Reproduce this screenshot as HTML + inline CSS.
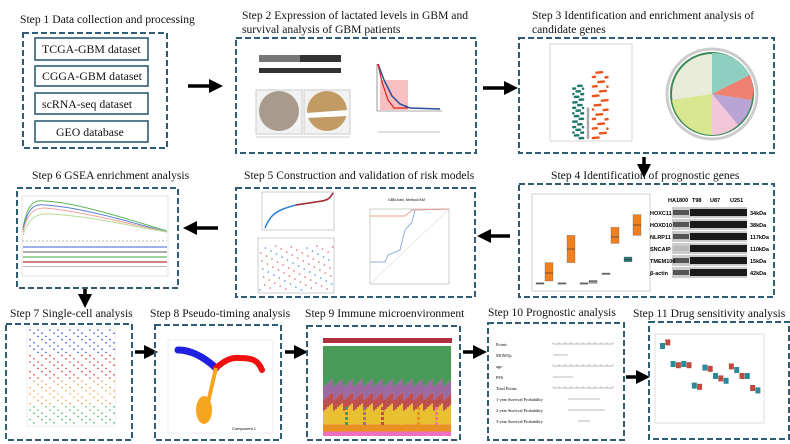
<!DOCTYPE html>
<html><head><meta charset="utf-8"><style>
html,body{margin:0;padding:0;background:#fff;}
svg{display:block;font-family:"Liberation Serif",serif;}
.t{font-size:11.6px;fill:#111;}
.ti{font-size:11.8px;fill:#111;}
.bx{fill:none;stroke:#2e5d75;stroke-width:2;stroke-dasharray:6,3;}
.ib{fill:#fff;stroke:#2e5d75;stroke-width:1.6;}
</style></head><body>
<svg id="fig" width="790" height="444" viewBox="0 0 790 444">
<defs>
<marker id="ah" markerWidth="4" markerHeight="4" refX="2" refY="2" orient="auto"><path d="M0,0 L4,2 L0,4 z" fill="#000"/></marker>
</defs>
<!-- Step 1 -->
<text class="t" x="20" y="23">Step 1 Data collection and processing</text>
<rect class="bx" x="23" y="33" width="144" height="115"/>
<rect class="ib" x="35" y="38" width="113" height="22"/>
<text class="ti" x="42" y="53">TCGA-GBM dataset</text>
<rect class="ib" x="35" y="66" width="113" height="20"/>
<text class="ti" x="42" y="80">CGGA-GBM dataset</text>
<rect class="ib" x="35" y="93" width="113" height="21"/>
<text class="ti" x="42" y="108">scRNA-seq dataset</text>
<rect class="ib" x="35" y="121" width="113" height="21"/>
<text class="ti" x="56" y="136">GEO database</text>

<g id="arrows"></g>

<!-- Step 2 -->
<text class="t" x="242" y="19">Step 2 Expression of lactated levels in GBM and</text>
<text class="t" x="242" y="33">survival analysis of GBM patients</text>
<rect class="bx" x="236" y="38" width="240" height="115"/>
<g>
<rect x="259" y="55" width="82" height="7" fill="#777"/>
<rect x="259" y="68" width="82" height="5" fill="#333"/>
<rect x="300" y="55" width="41" height="7" fill="#333"/>
</g>
<g>
<rect x="256" y="90" width="46" height="44" fill="#f2f2f2" stroke="#ccc"/>
<circle cx="279" cy="111" r="20" fill="#a89a8c"/>
<rect x="304" y="90" width="46" height="44" fill="#f2f2f2" stroke="#ccc"/>
<circle cx="327" cy="111" r="20" fill="#c29a63"/>
<path d="M306,113 L348,110 L348,116 L306,118z" fill="#fff"/>
<line x1="256" y1="137" x2="350" y2="137" stroke="#999" stroke-width="0.5"/>
</g>
<g>
<path d="M377,64 L377,111 L442,111" fill="none" stroke="#555" stroke-width="0.6"/>
<rect x="380" y="80" width="28" height="30" fill="#f4a4a4" opacity="0.7"/>
<path d="M378,64 L384,80 L392,96 L400,104 L410,108 L440,109" fill="none" stroke="#2b4f9a" stroke-width="1.5"/>
<path d="M378,64 L382,82 L388,100 L394,108 L408,108" fill="none" stroke="#e02020" stroke-width="1.2"/>
<path d="M378,132 L440,132" stroke="#888" stroke-width="0.6"/>
</g>

<!-- Step 3 -->
<text class="t" x="532" y="19">Step 3 Identification and enrichment analysis of</text>
<text class="t" x="532" y="33">candidate genes</text>
<rect class="bx" x="519" y="38" width="255" height="115"/>
<g id="volcano">
<rect x="550" y="44" width="82" height="97" fill="#fff" stroke="#bbb" stroke-width="0.6"/>
</g>
<g>
<circle cx="712" cy="94" r="45" fill="none" stroke="#ccc" stroke-width="3"/>
<circle cx="712" cy="94" r="41" fill="#e8ecd8" stroke="#3a8a5a" stroke-width="2"/>
<path d="M712,53 A41,41 0 0 1 750,75 L712,94z" fill="#8fcfbf"/>
<path d="M750,75 A41,41 0 0 1 752,100 L712,94z" fill="#f08070"/>
<path d="M752,100 A41,41 0 0 1 738,125 L712,94z" fill="#b9a4d6"/>
<path d="M738,125 A41,41 0 0 1 712,135 L712,94z" fill="#f4c7d8"/>
<path d="M712,135 A41,41 0 0 1 672,100 L712,94z" fill="#d9e890"/>
</g>

<!-- Step 4 -->
<text class="t" x="551" y="179">Step 4 Identification  of prognostic genes</text>
<rect class="bx" x="519" y="184" width="255" height="113"/>
<g id="boxplot4">
<rect x="532" y="194" width="118" height="97" fill="#fff" stroke="#ccc"/>
</g>
<g id="wb4"></g>

<!-- Step 5 -->
<text class="t" x="244" y="179">Step 5 Construction and validation of risk models</text>
<rect class="bx" x="236" y="188" width="239" height="109"/>
<g>
<rect x="262" y="192" width="72" height="38" fill="#fff" stroke="#999" stroke-width="0.5"/>
<path d="M265,228 C270,215 276,210 296,205 L322,201 C328,200 330,198 333,193" fill="none" stroke="#2a7fd0" stroke-width="1.5"/>
<path d="M296,205 L322,201 C328,200 330,198 333,193" fill="none" stroke="#b03030" stroke-width="1.5"/>
<rect x="258" y="238" width="76" height="55" fill="#fff" stroke="#999" stroke-width="0.5"/>
</g>
<g id="scatter5"></g>
<g>
<rect x="370" y="209" width="79" height="75" fill="#fff" stroke="#999" stroke-width="0.5"/>
<path d="M370,284 L449,209" stroke="#ddd" stroke-width="0.6"/>
<path d="M370,262 L385,262 L388,255 L400,250 L405,230 L412,222 L415,210 L449,209" fill="none" stroke="#8fb0d8" stroke-width="1"/>
<path d="M370,216 L405,216 L412,210 L449,209" fill="none" stroke="#f0a090" stroke-width="1"/>
<text x="388" y="201" font-size="3.5" font-family="Liberation Sans">GBM-train, Method=KM</text>
</g>

<!-- Step 6 -->
<text class="t" x="32" y="179">Step 6 GSEA enrichment analysis</text>
<rect class="bx" x="17" y="188" width="161" height="100"/>
<g id="gsea">
<rect x="22" y="196" width="146" height="80" fill="#fff" stroke="#ccc" stroke-width="0.5"/>
<path d="M23,228 C28,200 36,200 45,201 C80,203 130,220 167,231" fill="none" stroke="#5cb85c" stroke-width="1"/>
<path d="M23,230 C28,205 36,204 45,205 C80,207 130,222 167,232" fill="none" stroke="#5b7fd8" stroke-width="1"/>
<path d="M23,232 C28,210 36,208 45,208 C80,211 130,224 167,232" fill="none" stroke="#f0a0a0" stroke-width="1"/>
<path d="M23,235 C30,215 40,213 50,214 C90,216 130,226 167,232" fill="none" stroke="#b8dc90" stroke-width="1"/>
<path d="M22,241 L167,241" stroke="#777" stroke-dasharray="2,2" stroke-width="0.6"/>
<rect x="23" y="246" width="144" height="2" fill="#5b7fd8" opacity=".6"/>
<rect x="23" y="251" width="144" height="2" fill="#777" opacity=".6"/>
<rect x="23" y="256" width="144" height="2" fill="#5cb85c" opacity=".6"/>
<rect x="23" y="261" width="144" height="2" fill="#b03030" opacity=".6"/>
<rect x="23" y="266" width="144" height="1" fill="#555" opacity=".4"/>
</g>

<!-- Step 7 -->
<text class="t" x="10" y="317">Step 7 Single-cell analysis</text>
<rect class="bx" x="6" y="324" width="126" height="116"/>
<g id="dots7">
<rect x="27" y="327" width="88" height="99" fill="#fff" stroke="#ddd" stroke-width="0.5"/>
</g>

<!-- Step 8 -->
<text class="t" x="150" y="317">Step 8 Pseudo-timing analysis</text>
<rect class="bx" x="155" y="325" width="126" height="115"/>
<g>
<rect x="168" y="340" width="105" height="93" fill="#fff" stroke="#ddd" stroke-width="0.5"/>
<path d="M178,350 C192,350 205,358 216,368" fill="none" stroke="#2020e0" stroke-width="7" stroke-linecap="round"/>
<path d="M216,368 C225,360 232,357 240,358 C252,358 258,360 262,370" fill="none" stroke="#f01010" stroke-width="6" stroke-linecap="round"/>
<path d="M216,368 C212,385 210,395 206,410" fill="none" stroke="#f5a520" stroke-width="4"/>
<ellipse cx="204" cy="410" rx="8" ry="14" fill="#f5a520"/>
<text x="232" y="430" font-size="4" font-family="Liberation Sans">Component 1</text>
</g>

<!-- Step 9 -->
<text class="t" x="305" y="317">Step 9  Immune microenvironment</text>
<rect class="bx" x="307" y="326" width="153" height="114"/>
<rect x="323" y="338" width="129" height="5" fill="#b03040"/>
<g id="stack9"></g>
<g id="legend9"></g>

<!-- Step 10 -->
<text class="t" x="488" y="316">Step 10  Prognostic analysis</text>
<rect class="bx" x="488" y="323" width="136" height="117"/>
<g id="nomo"></g>

<!-- Step 11 -->
<text class="t" x="633" y="317">Step 11  Drug sensitivity analysis</text>
<rect class="bx" x="649" y="322" width="140" height="117"/>
<g id="drug">
<rect x="655" y="334" width="109" height="89" fill="#fff" stroke="#ddd"/>
</g>
</svg>
<script>
const NS="http://www.w3.org/2000/svg";
function mk(p,tag,a){const e=document.createElementNS(NS,tag);for(const k in a)e.setAttribute(k,a[k]);p.appendChild(e);return e;}
const arrowList=[[188,86,216,86],[483,88,511,88],[644,157,644,171],[510,236,484,236],[218,228,190,228],[85,289,85,301],[135,352,151,352],[285,352,301,352],[463,352,480,352],[626,377,643,377]];
const ag=document.getElementById('arrows');
arrowList.forEach(a=>{const l=mk(ag,'line',{x1:a[0],y1:a[1],x2:a[2],y2:a[3],stroke:'#000','stroke-width':3.5,'marker-end':'url(#ah)'});

});
const vg=document.getElementById('volcano');
for(let i=0;i<60;i++){const t=i/60;
mk(vg,'circle',{cx:583-(i%7)*1.6,cy:138-t*55+(i%3),r:1.3,fill:'#1f7a6a'});
mk(vg,'circle',{cx:593+(i%9)*1.8,cy:138-t*70+(i%4),r:1.3,fill:'#e8541c'});
mk(vg,'circle',{cx:588,cy:138-t*30,r:1.2,fill:'#aaa'});}
// step4 boxplot values
const genes4=['A','B','C','D','E','F','G','H','I','J'];
const med4=[0.02,0.15,0.02,0.45,0.02,0.04,0.14,0.6,0.32,0.75];
const q1_4=[0.01,0.05,0.01,0.28,0.01,0.02,0.13,0.52,0.29,0.62];
const q3_4=[0.03,0.28,0.03,0.62,0.03,0.06,0.15,0.72,0.35,0.88];
const bg=document.getElementById('boxplot4');
const y4=v=>285-v*80;
genes4.forEach((g,i)=>{const x=536+Math.floor(i/2)*22+(i%2)*9;
const r=mk(bg,'rect',{x:x,y:y4(q3_4[i]),width:8,height:Math.max(1.5,y4(q1_4[i])-y4(q3_4[i])),fill:(i%2&&i!=5)||i==9?'#f07f20':(i==8?'#2a7a7a':'#aaa'),stroke:'#555','stroke-width':0.3});


mk(bg,'line',{x1:x,x2:x+8,y1:y4(med4[i]),y2:y4(med4[i]),stroke:'#333','stroke-width':0.6});});
const wbLabels=['HOXC11','HOXD10','NLRP11','SNCAIP','TMEM100','β-actin'];
const wbKda=['34kDa','38kDa','117kDa','110kDa','15kDa','42kDa'];
const wb=document.getElementById('wb4');
['HA1800','T98','U87','U251'].forEach((c,i)=>{const t=mk(wb,'text',{x:[668,692,710,730][i],y:202,'font-size':5.5,'font-family':'Liberation Sans','font-weight':'bold'});t.textContent=c;

});
wbLabels.forEach((l,i)=>{const y=207+i*12;
mk(wb,'rect',{x:672,y:y,width:75,height:11,fill:'#ccc'});
mk(wb,'rect',{x:690,y:y+2,width:57,height:7,fill:'#1a1a1a'});
mk(wb,'rect',{x:673,y:y+3,width:16,height:5,fill:i==3?'#bbb':'#555'});
const t=mk(wb,'text',{x:650,y:y+8,'font-size':5.5,'font-family':'Liberation Sans','font-weight':'bold'});t.textContent=l;


const k=mk(wb,'text',{x:750,y:y+8,'font-size':5.5,'font-family':'Liberation Sans','font-weight':'bold'});k.textContent=wbKda[i];

});
const sg=document.getElementById('scatter5');
for(let i=0;i<80;i++){mk(sg,'circle',{cx:260+i*0.92,cy:290-((i*37)%45),r:0.8,fill:i%3?'#e06060':'#4090e0'});}
const dg=document.getElementById('dots7');
const cols7=['#3050e0','#e03030','#f0a040','#40b060','#a0d060'];
for(let r=0;r<30;r++)for(let c=0;c<22;c++){if((r*7+c*3)%5<2)mk(dg,'circle',{cx:30+c*4,cy:330+r*3.2,r:0.8,fill:cols7[(r>>3)%5]});}
const comp9=[0.45,0.15,0.12,0.15,0.08,0.05];
const col9=['#4a9a5a','#9a6aa0','#c05050','#e8c030','#e89020','#f070c0'];
const st=document.getElementById('stack9');
for(let i=0;i<64;i++){let y=346;const j=(i%5)*0.02;comp9.forEach((v,k)=>{const h=(v+(k==0?-j:k==3?j:0))*90;mk(st,'rect',{x:323+i*2,y:y,width:2.1,height:h,fill:col9[k]});y+=h;});}
const lg=document.getElementById('legend9');
for(let i=0;i<24;i++)mk(lg,'rect',{x:345+(i%6)*18,y:407+Math.floor(i/6)*5,width:3,height:3,fill:col9[i%6]});
const nomoLabels=['Points','MGMTp','age','PFS','Total Points','1-year Survival Probability','2-year Survival Probability','3-year Survival Probability'];
const ng=document.getElementById('nomo');
nomoLabels.forEach((l,i)=>{const y=344+i*11;const t=mk(ng,'text',{x:496,y:y+2,'font-size':4.3});t.textContent=l;


const x1=[553,553,553,553,553,568,568,578][i],x2=[613,568,613,573,613,600,605,590][i];
mk(ng,'line',{x1:x1,y1:y,x2:x2,y2:y,stroke:'#777','stroke-width':0.5});
if(i==0||i==2||i==4)for(let k=0;k<=10;k++)mk(ng,'line',{x1:x1+k*6,x2:x1+k*6,y1:y,y2:y-2,stroke:'#777','stroke-width':0.4});});
const drugMed=[0.45,0.48,0.3,0.29,0.3,0.29,0.12,0.11,0.27,0.26,0.2,0.18,0.16,0.28,0.25,0.2,0.2,0.1,0.08];
const dr=document.getElementById('drug');
drugMed.forEach((v,i)=>{const x=660+i*5.3;const y=420-v*120-20;
const r=mk(dr,'rect',{x:x,y:y-3,width:5,height:6,fill:i%2?'#c04a40':'#2a8a9a'});

});
</script>
</body></html>
